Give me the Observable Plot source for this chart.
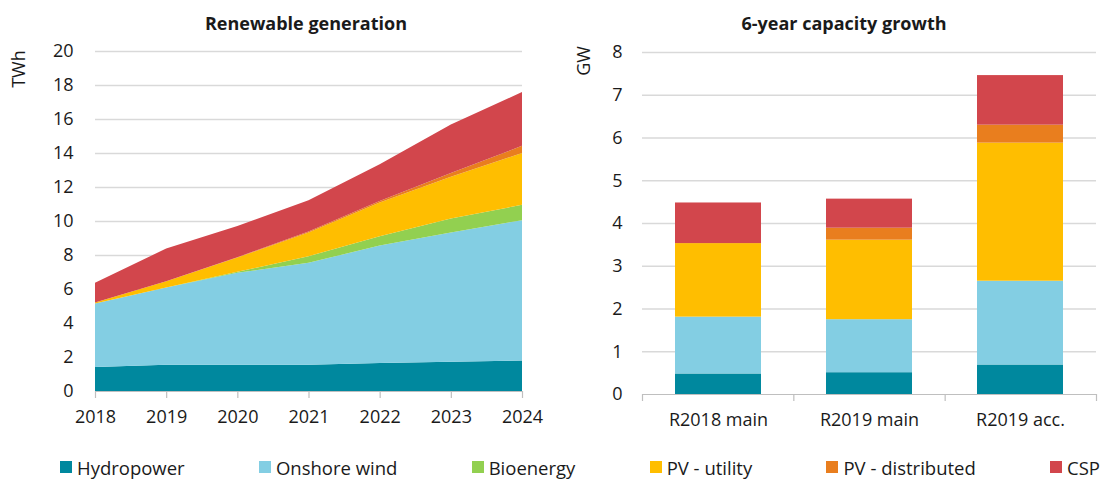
<!DOCTYPE html>
<html>
<head>
<meta charset="utf-8">
<script src="https://cdn.jsdelivr.net/npm/d3@7"></script>
<script src="https://cdn.jsdelivr.net/npm/@observablehq/plot@0.6"></script>
<style>
  html, body { margin: 0; padding: 0; background: #fff; }
  body { font-family: "Open Sans", "Noto Sans", sans-serif; color: #1a1a1a; }
  #wrap { position: relative; width: 1102px; height: 479px; overflow: hidden; }
  .abs { position: absolute; }
  .title { position: absolute; font-weight: 700; font-size: 18px; transform: translate(-50%, -50%); white-space: nowrap; }
  .ylab { position: absolute; font-size: 18px; transform: translate(-50%, -50%) rotate(-90deg); white-space: nowrap; }
  #legend { position: absolute; left: 60px; right: 2px; top: 455px; height: 24px; display: flex; justify-content: space-between; align-items: center; font-size: 18.5px; }
  .item { display: flex; align-items: center; white-space: nowrap; }
  .sw { width: 12px; height: 12px; margin-right: 5px; }
</style>
</head>
<body>
<div id="wrap">
  <div id="left" class="abs" style="left:0;top:0"></div>
  <div id="right" class="abs" style="left:545px;top:0"></div>
  <div id="rightAxis" class="abs" style="left:545px;top:0"></div>
  <div class="title" style="left:306px;top:23px">Renewable generation</div>
  <div class="title" style="left:844px;top:23px">6-year capacity growth</div>
  <div class="ylab" style="left:18px;top:69px">TWh</div>
  <div class="ylab" style="left:583px;top:61px">GW</div>
  <div id="legend"></div>
</div>
<script>
// ---- Data ----
const seriesNames = ["Hydropower", "Onshore wind", "Bioenergy", "PV - utility", "PV - distributed", "CSP"];
const seriesColors = ["#00889e", "#83cee3", "#92d050", "#ffbe00", "#e97e1e", "#d2464c"];

const years = [2018, 2019, 2020, 2021, 2022, 2023, 2024];
const genHydro   = [1.41, 1.55, 1.55, 1.55, 1.65, 1.72, 1.80];
const genWind    = [3.74, 4.54, 5.40, 5.99, 6.91, 7.60, 8.25];
const genBio     = [0.00, 0.00, 0.06, 0.39, 0.55, 0.83, 0.90];
const genPVU     = [0.06, 0.37, 0.84, 1.39, 1.98, 2.45, 3.05];
const genPVD     = [0.00, 0.00, 0.02, 0.06, 0.09, 0.23, 0.42];
const genCSP     = [1.16, 1.92, 1.83, 1.84, 2.16, 2.84, 3.17];
const genTicks   = [0, 2, 4, 6, 8, 10, 12, 14, 16, 18, 20];

const cases = ["R2018 main", "R2019 main", "R2019 acc."];
const capHydro = [0.48, 0.51, 0.69];
const capWind  = [1.33, 1.24, 1.96];
const capBio   = [0.00, 0.00, 0.00];
const capPVU   = [1.72, 1.86, 3.23];
const capPVD   = [0.00, 0.28, 0.42];
const capCSP   = [0.95, 0.68, 1.16];
const capTicks = [0, 1, 2, 3, 4, 5, 6, 7, 8];

// ---- Tables ----
const genSeries = [genHydro, genWind, genBio, genPVU, genPVD, genCSP];
const genData = [];
seriesNames.forEach((s, i) => years.forEach((y, j) => genData.push({series: s, year: y, value: genSeries[i][j]})));

const capSeries = [capHydro, capWind, capBio, capPVU, capPVD, capCSP];
const capData = [];
seriesNames.forEach((s, i) => cases.forEach((c, j) => capData.push({series: s, cat: c, value: capSeries[i][j]})));

const color = {domain: seriesNames, range: seriesColors};
const font = "'Open Sans', 'Noto Sans', sans-serif";
const gridColor = "#d9d9d9";
const axisColor = "#bfbfbf";
const textColor = "#1a1a1a";

// ---- Left chart ----
const left = Plot.plot({
  width: 545, height: 430,
  marginTop: 51, marginBottom: 39, marginLeft: 95, marginRight: 23,
  style: {fontFamily: font, fontSize: "18px", color: textColor, background: "transparent"},
  x: {domain: [years[0], years[years.length - 1]], axis: null},
  y: {domain: [0, 20], axis: null},
  color,
  marks: [
    Plot.gridY(genTicks.filter(d => d > 0), {stroke: gridColor, strokeOpacity: 1, strokeWidth: 1.5}),
    Plot.areaY(genData, {x: "year", y: "value", fill: "series", order: seriesNames}),
    Plot.ruleY([0], {stroke: axisColor, strokeWidth: 1.2}),
    Plot.axisX({ticks: years, tickSize: 7, tickFormat: () => "", stroke: axisColor, strokeWidth: 1.2, label: null}),
    Plot.axisX({ticks: years, tickSize: 0, tickPadding: 19, tickFormat: d => String(d), fill: textColor, label: null}),
    Plot.axisY({ticks: genTicks, tickSize: 0, tickPadding: 22, fill: textColor, label: null})
  ]
});
document.getElementById("left").appendChild(left);

// ---- Right chart ----
const right = Plot.plot({
  width: 557, height: 430,
  marginTop: 52, marginBottom: 36, marginLeft: 97, marginRight: 6,
  style: {fontFamily: font, fontSize: "18px", color: textColor, background: "transparent"},
  x: {domain: cases, paddingInner: 0.43, paddingOuter: 0.215, axis: null},
  y: {domain: [0, 8], axis: null},
  color,
  marks: [
    Plot.gridY(capTicks.filter(d => d > 0), {stroke: gridColor, strokeOpacity: 1, strokeWidth: 1.5}),
    Plot.barY(capData, {x: "cat", y: "value", fill: "series", order: seriesNames}),
    Plot.axisX({tickSize: 0, tickPadding: 19, fill: textColor, label: null}),
    Plot.axisY({ticks: capTicks, tickSize: 0, tickPadding: 20, fill: textColor, label: null})
  ]
});
document.getElementById("right").appendChild(right);

// Category-boundary ticks and axis line for the bar chart (overlay with a linear index scale)
const boundaries = d3.range(cases.length + 1);
const rightAxis = Plot.plot({
  width: 557, height: 430,
  marginTop: 52, marginBottom: 36, marginLeft: 97, marginRight: 6,
  style: {fontFamily: font, fontSize: "18px", background: "transparent"},
  x: {domain: [0, cases.length], axis: null},
  y: {domain: [0, 8], axis: null},
  marks: [
    Plot.ruleY([0], {stroke: axisColor, strokeWidth: 1.2}),
    Plot.axisX({ticks: boundaries, tickSize: 7, tickFormat: () => "", stroke: axisColor, strokeWidth: 1.2, label: null})
  ]
});
document.getElementById("rightAxis").appendChild(rightAxis);

// ---- Legend ----
const legend = document.getElementById("legend");
seriesNames.forEach((s, i) => {
  const it = document.createElement("div");
  it.className = "item";
  const sw = document.createElement("div");
  sw.className = "sw";
  sw.style.background = seriesColors[i];
  const tx = document.createElement("span");
  tx.textContent = s;
  it.appendChild(sw); it.appendChild(tx);
  legend.appendChild(it);
});
</script>
</body>
</html>
